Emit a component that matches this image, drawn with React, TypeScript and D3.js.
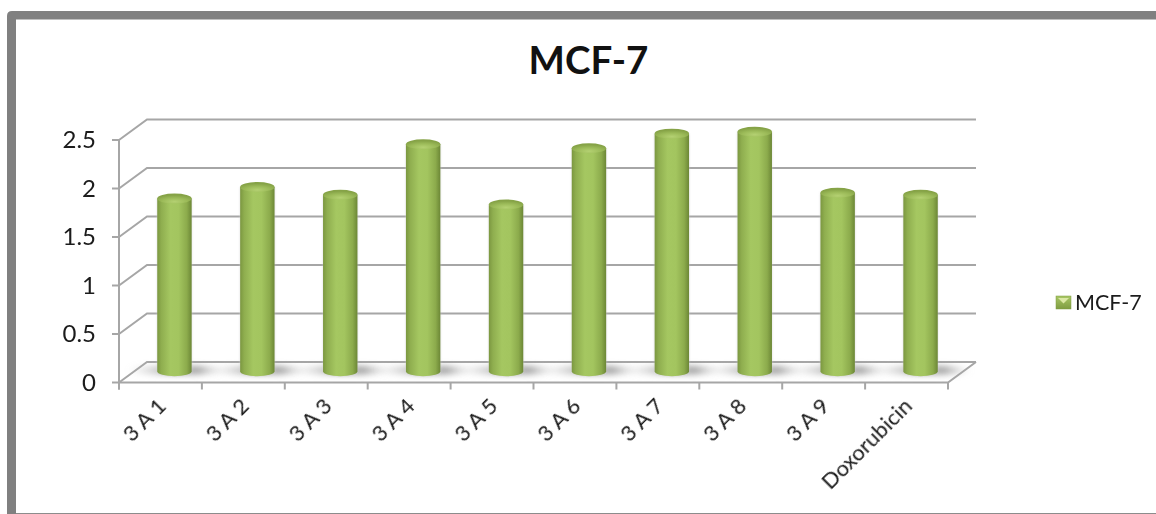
import React, { useMemo } from "react";
import * as d3 from "d3";

const categories = ["3 A 1", "3 A 2", "3 A 3", "3 A 4", "3 A 5", "3 A 6", "3 A 7", "3 A 8", "3 A 9", "Doxorubicin"];
const mcf7Values = [1.79, 1.91, 1.83, 2.35, 1.73, 2.31, 2.46, 2.48, 1.85, 1.83];
const valueTicks = [0, 0.5, 1, 1.5, 2, 2.5];
const tickLabels = ["0", "0.5", "1", "1.5", "2", "2.5"];
const seriesName = "MCF-7";
const FONT = "Lato, Carlito, 'Open Sans', sans-serif";

export default function App() {
  const x = useMemo(() => d3.scaleBand<string>().domain(categories).range([119, 948]).padding(0), []);
  const y = useMemo(() => d3.scaleLinear().domain([0, 2.5]).range([382.5, 140]), []);
  const depthX = 28;
  const depthY = -20.5;
  const gridColor = "#a6a6a6";
  const band = x.bandwidth();
  const rx = 17.2;
  const ry = 5;
  const edges = [...categories.map((c) => x(c) as number), 948];

  return (
    <svg width={1156} height={514} style={{ position: "absolute", left: 0, top: 0, background: "#fff" }}>
      <defs>
        <linearGradient id="cyl" x1="0" x2="1" y1="0" y2="0">
          <stop offset="0" stopColor="#7b9740" />
          <stop offset="0.12" stopColor="#8fae4f" />
          <stop offset="0.38" stopColor="#a5c761" />
          <stop offset="0.62" stopColor="#a3c55f" />
          <stop offset="0.86" stopColor="#8cab4c" />
          <stop offset="1" stopColor="#6c8736" />
        </linearGradient>
        <radialGradient id="cap" cx="0.5" cy="0.8" r="0.65">
          <stop offset="0" stopColor="#b4d172" />
          <stop offset="0.55" stopColor="#9cbb59" />
          <stop offset="1" stopColor="#86a347" />
        </radialGradient>
        <linearGradient id="floorShade" x1="0" x2="1" y1="0" y2="0">
          <stop offset="0" stopColor="#b8b8b8" stopOpacity="0" />
          <stop offset="0.32" stopColor="#a8a8a8" stopOpacity="0.65" />
          <stop offset="0.72" stopColor="#8c8c8c" stopOpacity="0.8" />
          <stop offset="1" stopColor="#b8b8b8" stopOpacity="0" />
        </linearGradient>
        <linearGradient id="legendFill" x1="0" x2="0" y1="0" y2="1">
          <stop offset="0" stopColor="#a8c765" />
          <stop offset="1" stopColor="#7f9c41" />
        </linearGradient>
        <filter id="soft" x="-30%" y="-150%" width="160%" height="400%">
          <feGaussianBlur stdDeviation="3" />
        </filter>
        <filter id="halo" x="-20%" y="-5%" width="140%" height="110%">
          <feGaussianBlur stdDeviation="1.2" />
        </filter>
        <filter id="textSoft" x="-5%" y="-5%" width="110%" height="110%">
          <feGaussianBlur stdDeviation="0.35" />
        </filter>
      </defs>

      {/* outer frame: heavy on the left and top, hairline along the bottom */}
      <path d="M1156 11 H12 Q7 11 7 16 V514 H16 V19.5 H1156 Z" fill="#808080" />
      <line x1={16} x2={1156} y1={513.5} y2={513.5} stroke="#8c8c8c" strokeWidth={1} />

      <text x={588.5} y={74} textAnchor="middle" fontFamily={FONT} fontWeight={700} fontSize={38.5} fill="#111">
        {seriesName}
      </text>

      {/* back wall gridlines with their slanted return to the value axis */}
      {valueTicks.map((t) => (
        <path
          key={t}
          d={`M${119} ${y(t)} L${119 + depthX} ${y(t) + depthY} H${948 + depthX}`}
          fill="none"
          stroke={gridColor}
          strokeWidth={2}
        />
      ))}

      {/* floor front edge, right return and value axis */}
      <path
        d={`M119 ${y(0)} H948 L${948 + depthX} ${y(0) + depthY}`}
        fill="none"
        stroke={gridColor}
        strokeWidth={2}
      />
      <line x1={119} x2={119} y1={y(2.5)} y2={y(0) + 7} stroke={gridColor} strokeWidth={2} />
      {valueTicks.map((t) => (
        <line key={t} x1={112} x2={119} y1={y(t)} y2={y(t)} stroke={gridColor} strokeWidth={2} />
      ))}
      {edges.map((e) => (
        <line key={e} x1={e} x2={e} y1={y(0)} y2={y(0) + 7} stroke={gridColor} strokeWidth={2} />
      ))}

      {valueTicks.map((t, i) => (
        <text
          key={t}
          x={96}
          y={y(t) + 8}
          textAnchor="end"
          fontFamily={FONT}
          fontSize={24}
          fill="#1a1a1a"
          filter="url(#textSoft)"
        >
          {tickLabels[i]}
        </text>
      ))}

      {categories.map((c) => {
        const cx = (x(c) as number) + band / 2;
        return (
          <text
            key={c}
            transform={`translate(${cx + 7},${y(0) + 25}) rotate(-45)`}
            textAnchor="end"
            fontFamily={FONT}
            fontSize={22}
            fill="#1a1a1a"
            filter="url(#textSoft)"
          >
            {c}
          </text>
        );
      })}

      {/* cylinders sit midway through the chart depth */}
      {categories.map((c, i) => {
        const cx = (x(c) as number) + band / 2 + depthX / 2;
        const base = y(0) + depthY / 2 - 1;
        const top = y(mcf7Values[i]) + depthY / 2;
        const body = `M${cx - rx} ${top} V${base} A${rx} ${ry} 0 0 0 ${cx + rx} ${base} V${top} Z`;
        return (
          <g key={c}>
            <ellipse cx={cx + 2} cy={base - 1} rx={rx + 32} ry={4.5} fill="url(#floorShade)" filter="url(#soft)" />
            <path d={body} fill="#d0d0d0" filter="url(#halo)" opacity={0.8} />
            <path d={body} fill="url(#cyl)" />
            <ellipse cx={cx} cy={top} rx={rx} ry={ry} fill="url(#cap)" />
          </g>
        );
      })}

      {/* legend swatch with its folded highlight */}
      <rect x={1056} y={296} width={15} height={13} fill="url(#legendFill)" stroke="#7f9c41" strokeWidth={0.5} />
      <path d="M1058 298 H1069 L1063.5 303.5 Z" fill="#dbe8a4" />
      <text x={1075} y={309.5} fontFamily={FONT} fontSize={21.5} fill="#1a1a1a" filter="url(#textSoft)">
        {seriesName}
      </text>
    </svg>
  );
}
